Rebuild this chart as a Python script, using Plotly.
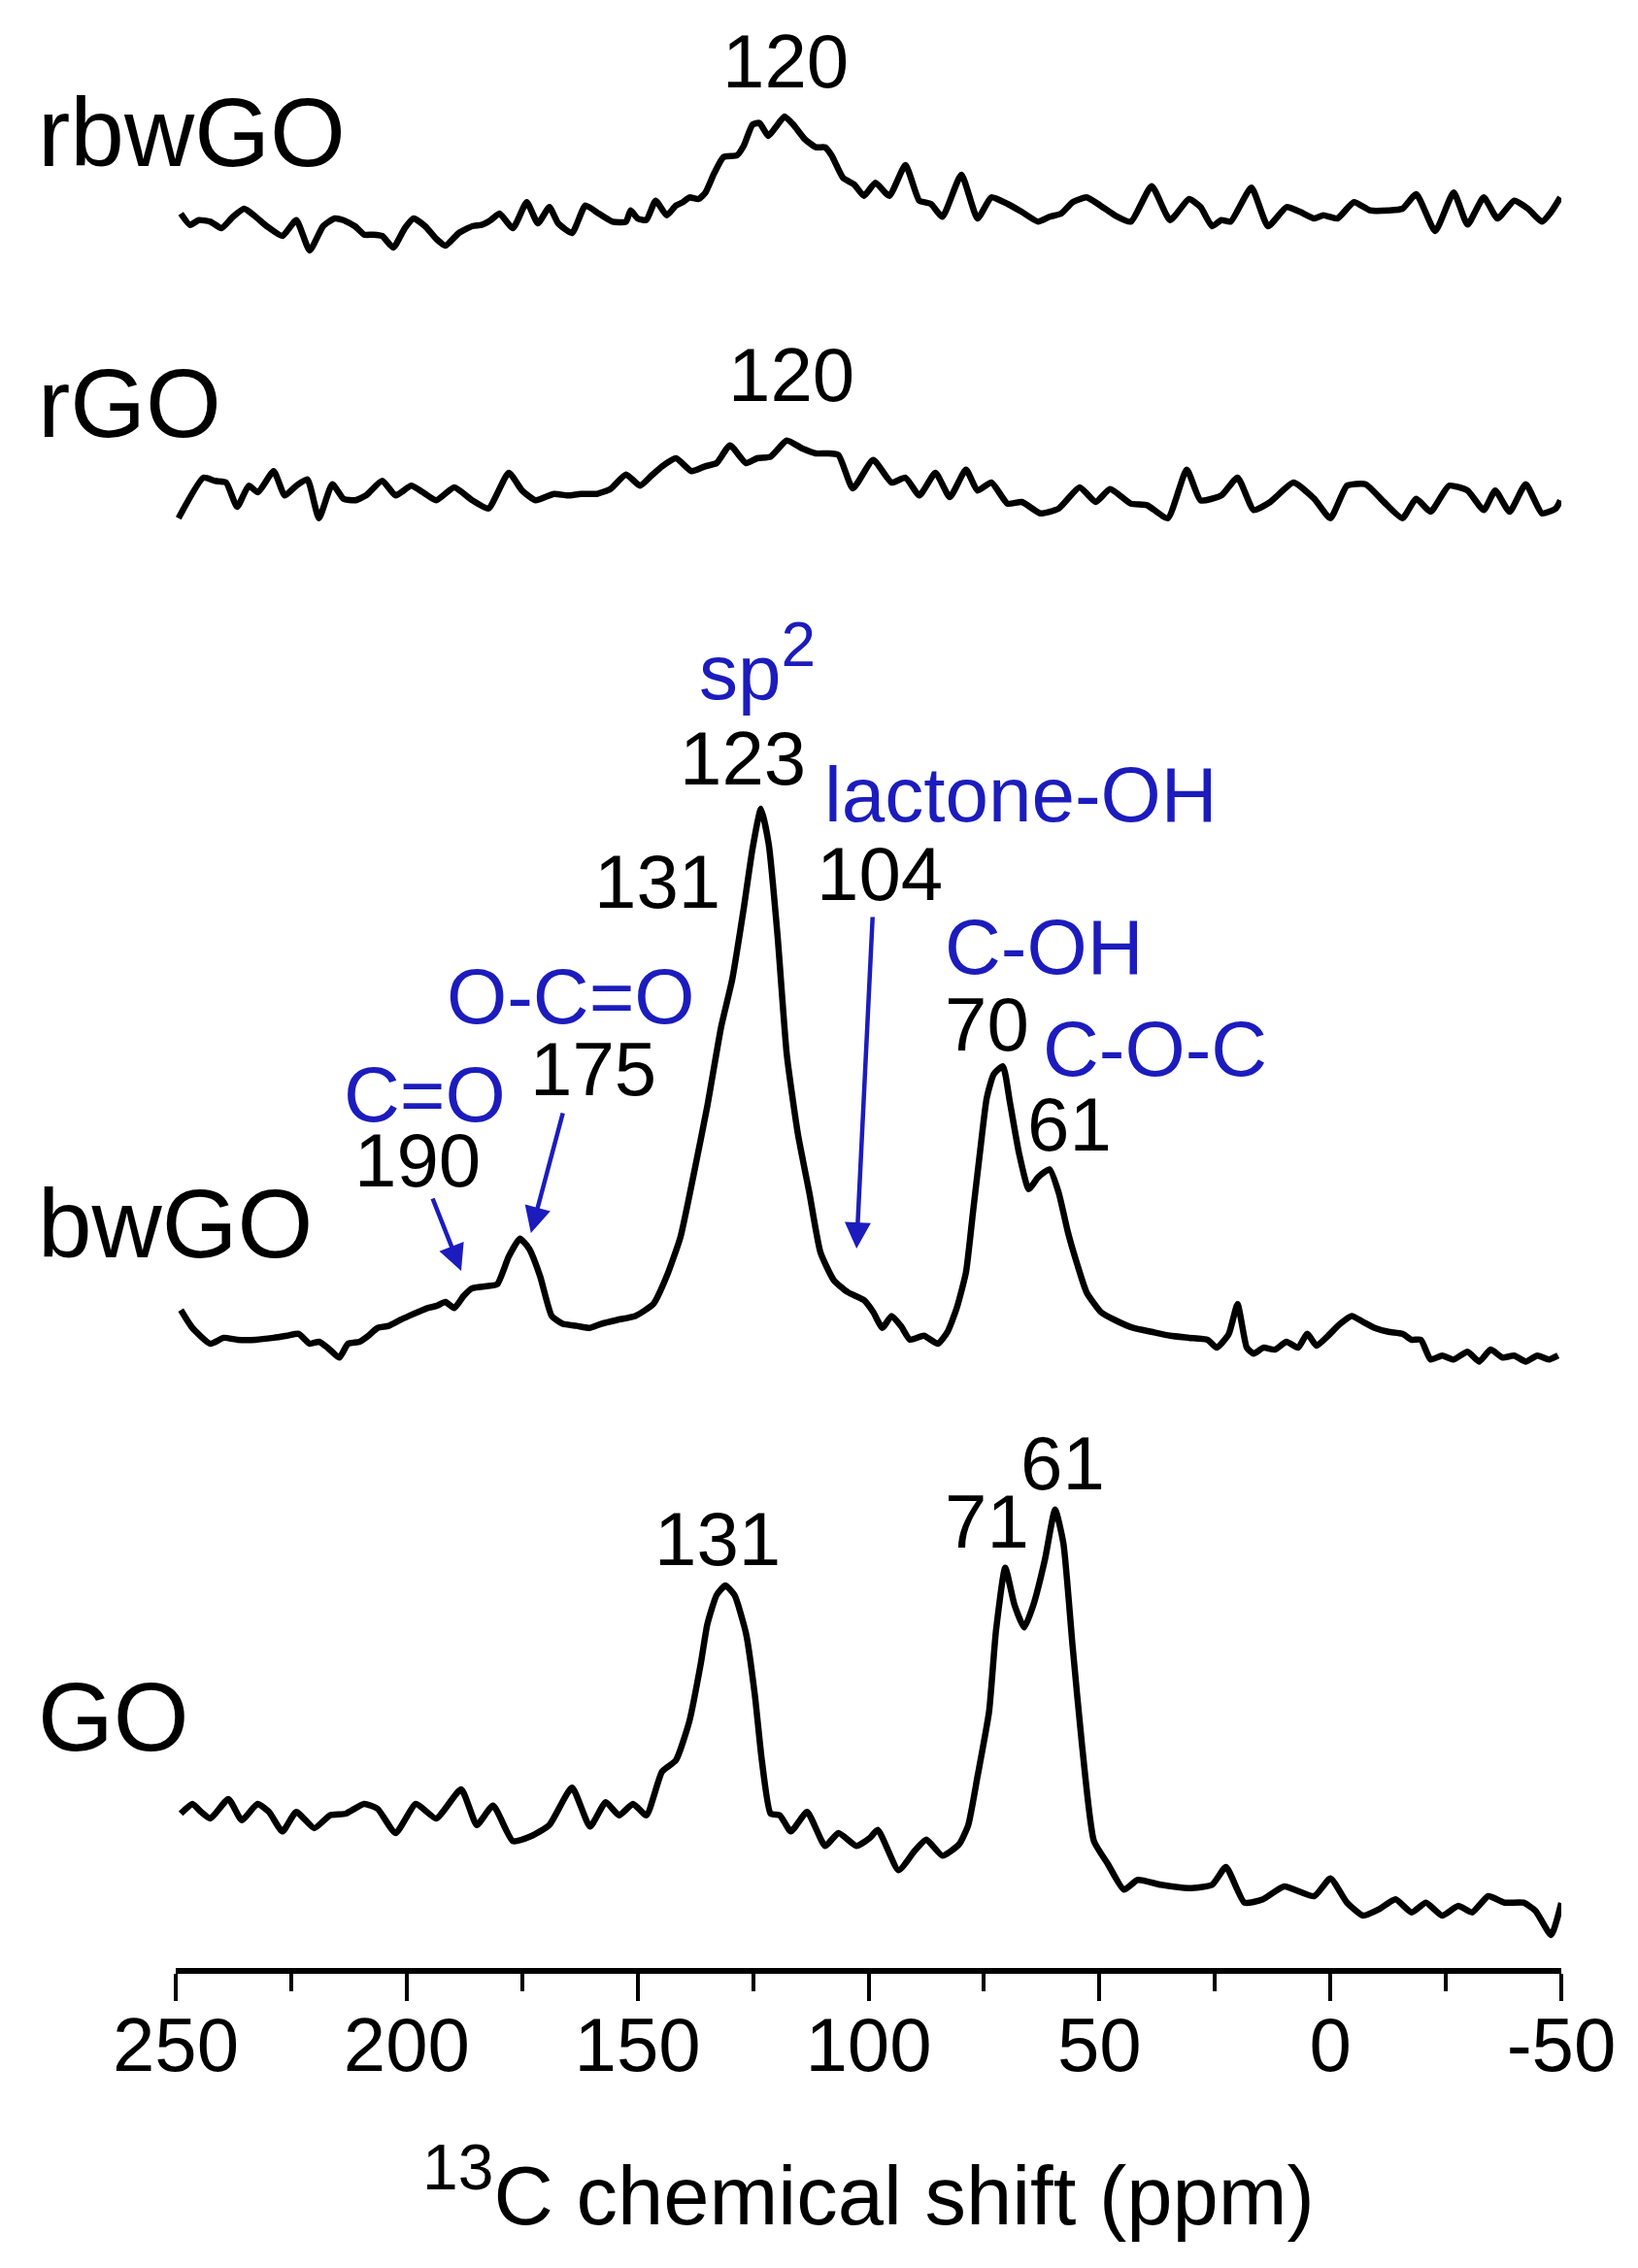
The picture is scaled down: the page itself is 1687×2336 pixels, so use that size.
import plotly.graph_objects as go

# ---------------- data (ppm, intensity a.u.) ----------------
rbwgo = [(248.9,13),(246.9,1.3),(245.0,6.3),(242.5,4.7),(240.1,-2),(237.6,9.7),(235.2,18),(232.7,9.7),
         (230.3,0),(226.9,-10),(223.9,6.3),(221.0,-25),(218.1,0),(215.6,8),(213.7,6.3),(211.2,0),(209.2,-8.7),
         (207.3,-8.7),(205.3,-10),(202.9,-22),(200.4,-2),(198.5,8),(196.0,0),(193.6,-13),(191.6,-20),(188.7,-7),
         (185.8,0),(183.8,1.3),(181.8,6.3),(179.9,13),(177.0,-2),(174.0,24.7),(171.6,3),(169.1,19.7),(167.2,3),
         (164.2,-7),(161.3,21.3),(158.4,13),(155.4,4.7),(152.5,4.7),(151.5,16.3),(150.0,8),(148.1,6.3),(146.1,26.3),
         (143.7,11.3),(141.7,21.3),(140.2,24.7),(138.8,29.7),(136.8,28),(135.3,34.7),(133.4,54.7),(131.4,71.3),
         (128.5,73),(127.0,83),(125.1,104.7),(123.6,106.3),(121.7,93),(120.2,101.3),(118.2,113),(116.3,104.7),
         (113.8,89.7),(111.4,81.3),(109.4,81.3),(108.0,73),(105.5,49.7),(103.1,43),(101.0,31.3),(98.5,44.7),
         (95.5,31.3),(92.0,63),(89.0,26.3),(86.5,23),(84.0,9.7),(79.9,53),(76.4,8),(73.4,29.7),(69.9,23),(66.8,14.7),
         (63.3,4.7),(60.8,9.7),(58.3,13),(55.8,24.7),(52.8,29.7),(49.8,21.3),(46.7,11.3),(43.2,4.7),(38.7,41.3),
         (34.7,6.3),(30.6,28),(28.1,19.7),(25.6,0),(23.6,6.3),(21.6,4.7),(17.1,39.7),(13.5,0),(9.5,19.7),(6.5,14.7),
         (3.5,8),(1.5,11.3),(-1.5,8),(-5.1,24.7),(-8.6,16.3),(-12.6,16.3),(-15.6,18),(-18.6,33),(-22.7,-5),
         (-26.7,34.7),(-29.7,1.7),(-33.2,29.7),(-36.2,8),(-39.8,26.3),(-42.8,18),(-45.8,4.7),(-47.8,14.7),(-49.8,29.7)]

rgo = [(249.4,-16.7),(244.0,25),(241.5,21.7),(239.1,20),(236.7,-5),(234.2,16.7),(232.2,10),(228.8,31.7),
       (226.4,6.7),(223.9,16.7),(221.5,23.3),(219.0,-16.7),(216.1,18.3),(213.7,3.3),(211.2,1.7),(208.8,6.7),
       (205.3,21.7),(202.4,6.7),(199.0,16.7),(196.5,10),(193.6,1.7),(189.7,15),(185.8,1.7),(182.3,-6.7),(177.9,30),
       (175.0,11.7),(172.1,1.7),(168.1,8.3),(165.2,6.7),(162.3,8.3),(158.8,8.3),(155.9,13.3),(152.5,28.3),
       (149.5,16.7),(147.1,26.7),(144.7,36.7),(141.7,45),(138.3,31.7),(135.4,36.7),(132.9,40),(130.0,58.3),
       (126.5,40),(124.1,45),(121.2,46.7),(117.7,63.3),(114.3,55),(111.4,50),(108.9,50),(106.5,48.3),(103.4,14),
       (99.0,43.3),(95.0,20),(92.0,25),(89.0,6.7),(85.5,30),(82.4,5),(78.9,33.3),(76.4,11.7),(73.4,20),(69.9,-1.7),
       (66.8,0),(62.8,-11.7),(58.8,-6.7),(54.3,15),(50.8,0),(47.7,13.3),(43.2,-1.7),(39.7,-3.3),(35.2,-16.7),
       (31.1,33.3),(28.1,1.7),(23.6,6.7),(20.1,25),(16.6,-8.3),(13.0,0),(8.0,20),(3.5,3.3),(0.0,-16.7),(-3.6,16.7),
       (-7.6,18.3),(-11.6,0),(-15.6,-16.7),(-18.6,3.3),(-21.7,-10),(-25.7,16.7),(-29.7,11.7),(-33.2,-8.3),
       (-35.7,11.7),(-38.8,-10),(-42.3,18.3),(-45.8,-11.7),(-48.8,-6.7),(-49.8,1.7)]

bwgo = [(248.9,34.7),(246.4,16.3),(242.5,0),(239.6,6.1),(236.6,4.1),(232.7,4.1),(228.8,6.1),(225.9,8.2),
        (223.4,10.2),(221.0,0),(219.0,2),(217.1,-4.1),(214.6,-14.3),(212.7,0),(210.2,2),(208.3,8.2),(206.3,16.3),
        (203.9,18.4),(201.4,24.5),(199.5,28.6),(197.5,32.7),(195.5,36.7),(193.6,38.8),(191.6,42.9),(189.7,36.7),
        (187.7,49),(185.8,57.1),(182.8,59.2),(180.4,61.2),(177.9,89.8),(175.5,108.2),(173.5,98),(171.1,69.4),
        (168.6,28.6),(166.2,20.4),(163.2,18.4),(160.3,16.3),(157.9,20.4),(154.4,24.5),(150.5,28.6),(146.6,40.8),
        (143.7,69.4),(140.7,110.2),(137.8,175.5),(134.9,244.9),(131.9,326.5),(129.5,375.5),(127.0,449),
        (125.1,510.2),(123.3,551),(121.6,514.3),(119.7,420.4),(117.7,298),(115.3,216.3),(112.8,155.1),
        (110.4,93.9),(107.5,65.3),(104.5,53.1),(101.0,44.9),(99.0,32.7),(97.0,16.3),(95.0,28.6),(93.0,18.4),
        (91.0,4.1),(88.0,8.2),(85.0,0),(82.9,12.2),(80.9,36.7),(78.9,73.5),(77.4,134.7),(75.9,195.9),(74.4,253.1),
        (72.9,277.6),(70.9,285.7),(69.4,249),(67.4,195.9),(65.3,159.2),(63.3,171.4),(60.8,179.6),(58.8,155.1),
        (56.8,114.3),(54.8,81.6),(52.8,53.1),(49.7,32.7),(46.7,24.5),(42.7,16.3),(38.7,12.2),(34.7,8.2),(30.6,6.1),
        (26.6,4.1),(24.6,-4.1),(22.0,10),(20.1,40.8),(18.1,-4),(16.6,-10.2),(14.5,-4.1),(12.0,-6.1),(9.5,2),
        (7.0,-4.1),(5.0,10.2),(3.0,-2),(0.5,8.2),(-2.1,20.4),(-4.6,28.6),(-7.1,22.4),(-9.6,16.3),(-12.6,12.2),
        (-15.6,10.2),(-17.6,4.1),(-19.6,4.1),(-21.7,-16.3),(-24.2,-12.2),(-26.7,-16.3),(-29.7,-8.2),(-32.2,-18.4),
        (-34.7,-6.1),(-37.3,-14.3),(-39.8,-12.2),(-42.3,-18.4),(-44.8,-12.2),(-47.3,-16.3),(-49.3,-12.2)]

go_ = [(248.9,-5),(246.4,5),(244.5,-3.3),(242.5,-10),(238.6,10),(235.7,-11.7),(232.3,5),(229.8,-3.3),
       (226.9,-23.3),(223.9,-3.3),(220.0,-20),(216.6,-6.7),(213.2,-5),(209.2,5),(206.3,0),(202.4,-25),(198.0,5),
       (193.6,-10),(188.2,20),(184.8,-16.7),(181.3,3.3),(177.0,-33.3),(173.1,-28.3),(169.1,-16.7),(164.2,21.7),
       (160.3,-18.3),(156.9,6.7),(154.0,-6.7),(151.0,5),(148.1,-6.7),(144.7,38.3),(141.7,50),(138.8,90),
       (136.3,150),(134.9,190),(132.9,220),(131.0,230),(129.0,220),(126.5,180),(124.6,116.7),(123.1,50),
       (121.2,-5),(119.2,-6.7),(116.8,-23.3),(113.3,-3.3),(109.4,-38.3),(106.5,-25),(102.6,-38.3),(99.7,-30),
       (98.0,-21.7),(93.5,-63.3),(90.0,-43.3),(87.5,-31.7),(84.0,-48.3),(80.4,-36.7),(78.4,-16.7),(76.4,33.3),
       (73.9,100),(72.4,183.3),(70.4,248.3),(68.4,210),(66.3,186.7),(64.3,210),(61.8,256.7),(59.6,308.3),
       (57.8,273.3),(55.8,166.7),(53.8,66.7),(51.2,-33.3),(48.2,-56.7),(44.7,-83.3),(41.7,-73.3),(36.7,-78.3),
       (30.6,-81.7),(25.6,-78.3),(22.6,-60),(18.6,-96.7),(14.6,-93.3),(10.0,-80),(3.5,-90),(0.0,-71.7),
       (-3.6,-96.7),(-7.1,-110),(-10.6,-103.3),(-14.1,-93.3),(-17.6,-106.7),(-20.7,-96.7),(-24.2,-110),
       (-27.7,-100),(-30.7,-106.7),(-34.2,-90),(-37.7,-96.7),(-41.8,-96.7),(-44.4,-105),(-47.8,-130),(-50.0,-97)]

samples = ["rbwGO", "rGO", "bwGO", "GO"]
spectra = [rbwgo, rgo, bwgo, go_]
offsets = [1794, 1510, 643, 164]          # vertical stacking offsets (a.u.)

tick_vals = [250, 200, 150, 100, 50, 0, -50]
tick_text = ["250", "200", "150", "100", "50", "0", "-50"]
minor_vals = [225, 175, 125, 75, 25, -25]

# peak labels: (text, ppm, y, colour-key)
peak_labels = [
    ("120", 118.0, 1964, "k"),
    ("120", 116.7, 1641, "k"),
    ("sp<sup><span style='font-size:64px'>2</span></sup>", 124.0, 1345, "b"),
    ("123", 127.2, 1246, "k"),
    ("lactone-OH", 67.0, 1209, "b"),
    ("131", 145.8, 1119, "k"),
    ("104", 97.6, 1127, "k"),
    ("C-OH", 62.1, 1052, "b"),
    ("O-C=O", 164.5, 1001, "b"),
    ("70", 74.3, 972, "k"),
    ("C-O-C", 38.0, 947, "b"),
    ("C=O", 196.0, 900, "b"),
    ("175", 159.6, 926, "k"),
    ("61", 56.4, 869, "k"),
    ("190", 197.7, 832, "k"),
    ("131", 132.7, 442, "k"),
    ("71", 74.3, 460, "k"),
    ("61", 57.9, 520, "k"),
]
# arrows: (tip ppm, tip y, tail ppm, tail y)
arrows = [(188.2, 718, 194.5, 794), (173.1, 757, 166.1, 882), (102.6, 741, 99.1, 1084)]
sample_label_y = [1891, 1612, 767, 259]

BLUE = "#1c1cbe"
FONT = "Liberation Sans, Arial, sans-serif"

fig = go.Figure()
for name, spec, off in zip(samples, spectra, offsets):
    fig.add_trace(go.Scatter(
        x=[p for p, _ in spec], y=[v + off for _, v in spec], mode="lines", name=name,
        line=dict(color="black", width=6.5, shape="spline", smoothing=0.5),
        showlegend=False, hoverinfo="skip"))

ann = []
for name, yy in zip(samples, sample_label_y):
    ann.append(dict(text=name, xref="paper", yref="y", x=-0.101, y=yy, xanchor="left", yanchor="middle",
                    showarrow=False, font=dict(family=FONT, size=100, color="black")))
for txt, px, py, c in peak_labels:
    ann.append(dict(text=txt, xref="x", yref="y", x=px, y=py, xanchor="center", yanchor="middle",
                    showarrow=False,
                    font=dict(family=FONT, size=80 if c == "b" else 78, color=BLUE if c == "b" else "black")))
for tx, ty, sx, sy in arrows:
    ann.append(dict(text="", xref="x", yref="y", x=tx, y=ty, axref="x", ayref="y", ax=sx, ay=sy,
                    showarrow=True, arrowhead=2, arrowsize=1.2, arrowwidth=4.5, arrowcolor=BLUE, standoff=0))
ann.append(dict(text="<sup><span style='font-size:66px'>13</span></sup>C chemical shift (ppm)",
                xref="paper", yref="paper", x=0.5, y=-0.1114,
                xanchor="center", yanchor="middle", showarrow=False,
                font=dict(family=FONT, size=85, color="black")))

fig.update_layout(
    width=1687, height=2336,
    margin=dict(l=173, r=87, t=0, b=317),
    paper_bgcolor="white", plot_bgcolor="white",
    annotations=ann,
    xaxis=dict(range=[250, -50], tickvals=tick_vals, ticktext=tick_text, ticks="outside",
               ticklen=28, tickwidth=4, tickcolor="black", showline=True, linewidth=6, linecolor="black",
               showgrid=False, zeroline=False, ticklabelstandoff=-22,
               tickfont=dict(family=FONT, size=78, color="black"),
               minor=dict(tickvals=minor_vals, ticks="outside", ticklen=18, tickwidth=4, tickcolor="black",
                          showgrid=False)),
    yaxis=dict(range=[0, 2019], visible=False, showgrid=False, zeroline=False),
)

fig.write_html("out.html")
